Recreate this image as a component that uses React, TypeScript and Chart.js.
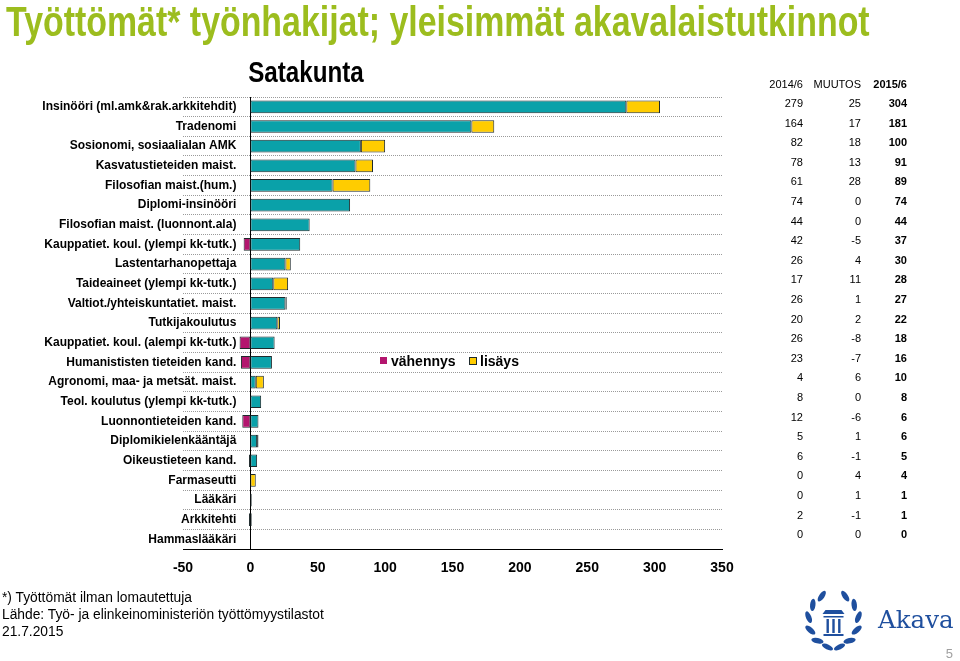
import React, { useEffect, useRef } from "react";
import { Chart, registerables } from "chart.js";

Chart.register(...registerables);

// ---------- data ----------
const categories = [
  "Insinööri (ml.amk&rak.arkkitehdit)",
  "Tradenomi",
  "Sosionomi, sosiaalialan AMK",
  "Kasvatustieteiden maist.",
  "Filosofian maist.(hum.)",
  "Diplomi-insinööri",
  "Filosofian maist. (luonnont.ala)",
  "Kauppatiet. koul. (ylempi kk-tutk.)",
  "Lastentarhanopettaja",
  "Taideaineet (ylempi kk-tutk.)",
  "Valtiot./yhteiskuntatiet. maist.",
  "Tutkijakoulutus",
  "Kauppatiet. koul. (alempi kk-tutk.)",
  "Humanististen tieteiden kand.",
  "Agronomi, maa- ja metsät. maist.",
  "Teol. koulutus (ylempi kk-tutk.)",
  "Luonnontieteiden kand.",
  "Diplomikielenkääntäjä",
  "Oikeustieteen kand.",
  "Farmaseutti",
  "Lääkäri",
  "Arkkitehti",
  "Hammaslääkäri",
];
const values2014 = [279, 164, 82, 78, 61, 74, 44, 42, 26, 17, 26, 20, 26, 23, 4, 8, 12, 5, 6, 0, 0, 2, 0];
const changes = [25, 17, 18, 13, 28, 0, 0, -5, 4, 11, 1, 2, -8, -7, 6, 0, -6, 1, -1, 4, 1, -1, 0];
const values2015 = [304, 181, 100, 91, 89, 74, 44, 37, 30, 28, 27, 22, 18, 16, 10, 8, 6, 6, 5, 4, 1, 1, 0];
const xTicks = [-50, 0, 50, 100, 150, 200, 250, 300, 350];
const tableHeaders = ["2014/6", "MUUTOS", "2015/6"];
const legendLabels = ["vähennys", "lisäys"];
const titleText = "Työttömät* työnhakijat; yleisimmät akavalaistutkinnot";
const subtitleText = "Satakunta";
const footerLines = [
  "*) Työttömät ilman lomautettuja",
  "Lähde: Työ- ja elinkeinoministeriön työttömyystilastot",
  "21.7.2015",
];
const pageNumber = "5";
const logoText = "Akava";

// ---------- styles ----------
const FONT = "'Liberation Sans', Arial, Helvetica, sans-serif";
const TEAL = "#0aa1a9";
const YELLOW = "#ffcc00";
const MAGENTA = "#b3156e";
const EDGE = "#1e2a2c";
const GREEN = "#9cbd1e";
const BLUE = "#1f4f9e";

function topFor(baseline: number, fs: number) {
  return baseline - 0.8465 * fs;
}

// category labels drawn at the zero line of the x scale (left of it)
const categoryLabelPlugin = {
  id: "categoryLabels",
  afterDraw(chart: any) {
    const xs = chart.scales.x;
    const ys = chart.scales.y;
    const ctx = chart.ctx;
    ctx.save();
    ctx.font = `bold 12px ${FONT}`;
    ctx.fillStyle = "#000";
    ctx.textAlign = "right";
    ctx.textBaseline = "middle";
    const x0 = xs.getPixelForValue(0) - 14;
    chart.data.labels.forEach((lab: string, i: number) => {
      ctx.fillText(lab, x0, ys.getPixelForValue(i));
    });
    ctx.restore();
  },
};

function BarChart() {
  const ref = useRef<HTMLCanvasElement | null>(null);
  useEffect(() => {
    if (!ref.current) return;
    const base = values2014.map((v, i) => Math.min(v, values2015[i]));
    const inc = changes.map((c) => (c > 0 ? c : null));
    const dec = changes.map((c) => (c < 0 ? c : null));
    const common = {
      borderColor: EDGE,
      borderWidth: 1,
      borderSkipped: false as const,
      stack: "s",
      categoryPercentage: 1,
      barPercentage: 0.646,
    };
    const chart = new Chart(ref.current, {
      type: "bar",
      data: {
        labels: categories,
        datasets: [
          { label: "base", data: base, backgroundColor: TEAL, ...common },
          { label: legendLabels[1], data: inc, backgroundColor: YELLOW, ...common },
          { label: legendLabels[0], data: dec, backgroundColor: MAGENTA, ...common },
        ],
      },
      plugins: [categoryLabelPlugin],
      options: {
        indexAxis: "y",
        animation: false,
        responsive: true,
        maintainAspectRatio: false,
        layout: { padding: { left: 183, right: 238, top: 97, bottom: 73 } },
        plugins: {
          legend: { display: false },
          tooltip: { enabled: false },
          title: { display: false },
        },
        scales: {
          x: {
            type: "linear",
            stacked: true,
            min: xTicks[0],
            max: xTicks[xTicks.length - 1],
            afterBuildTicks: (scale: any) => {
              scale.ticks = xTicks.map((v) => ({ value: v }));
            },
            ticks: {
              padding: 11,
              color: "#000",
              font: { family: FONT, size: 14, weight: "bold" },
            },
            grid: { display: false, drawTicks: false },
            border: { display: true, color: "#000", width: 1 },
          },
          y: {
            type: "category",
            stacked: true,
            position: { x: 0 } as any,
            ticks: { display: false },
            grid: { display: true, drawTicks: false, color: "#9a9a9a", lineWidth: 1, offset: true },
            border: { display: true, color: "#000", width: 1, dash: [1, 1] },
          },
        },
      } as any,
    });
    return () => chart.destroy();
  }, []);
  return (
    <div style={{ position: "absolute", left: 0, top: 0, width: 960, height: 661 }}>
      <canvas ref={ref} />
    </div>
  );
}

function Logo() {
  const cx = 833.5;
  const cy = 620;
  const rx = 25;
  const ry = 27;
  const angles = [28, 56, 84, 112, 140];
  const leaves: any[] = [];
  angles.forEach((a, k) => {
    [-1, 1].forEach((side) => {
      const rad = (a * Math.PI) / 180;
      const x = cx + side * rx * Math.sin(rad);
      const y = cy - ry * Math.cos(rad);
      const rot = side === -1 ? -a - 28 : a + 28;
      leaves.push(
        <ellipse key={`${k}-${side}`} cx={x} cy={y} rx={6.2} ry={2.7} fill={BLUE} transform={`rotate(${rot} ${x} ${y})`} />
      );
    });
  });
  return (
    <svg width={960} height={661} style={{ position: "absolute", left: 0, top: 0, pointerEvents: "none" }}>
      {leaves}
      <ellipse cx={cx - 6} cy={647} rx={6} ry={2.6} fill={BLUE} transform={`rotate(25 ${cx - 6} 647)`} />
      <ellipse cx={cx + 6} cy={647} rx={6} ry={2.6} fill={BLUE} transform={`rotate(-25 ${cx + 6} 647)`} />
      <polygon points={`${cx - 11},614 ${cx + 11},614 ${cx + 8},610 ${cx - 8},610`} fill={BLUE} />
      <rect x={cx - 10} y={616} width={20} height={1.5} fill={BLUE} />
      <rect x={cx - 7} y={619} width={2.4} height={14} fill={BLUE} />
      <rect x={cx - 1.2} y={619} width={2.4} height={14} fill={BLUE} />
      <rect x={cx + 4.6} y={619} width={2.4} height={14} fill={BLUE} />
      <rect x={cx - 10} y={634} width={20} height={2} fill={BLUE} />
    </svg>
  );
}

function Txt(props: {
  x: number;
  baseline: number;
  fs: number;
  align?: "left" | "right" | "center";
  bold?: boolean;
  color?: string;
  family?: string;
  scaleX?: number;
  children: any;
}) {
  const { x, baseline, fs, align = "left", bold, color = "#000", family = FONT, scaleX } = props;
  const style: any = {
    position: "absolute",
    top: topFor(baseline, fs),
    fontSize: fs,
    lineHeight: `${fs}px`,
    fontFamily: family,
    fontWeight: bold ? "bold" : "normal",
    color,
    whiteSpace: "nowrap",
  };
  if (align === "left") {
    style.left = x;
    if (scaleX) {
      style.transform = `scaleX(${scaleX})`;
      style.transformOrigin = "left";
    }
  } else if (align === "right") {
    style.right = 960 - x;
  } else {
    style.left = x;
    style.transform = `translateX(-50%)${scaleX ? ` scaleX(${scaleX})` : ""}`;
  }
  return <div style={style}>{props.children}</div>;
}

export default function App() {
  const rowBase = 107.3;
  const rowStep = 19.6;
  return (
    <div
      style={{
        position: "fixed",
        left: 0,
        top: 0,
        width: 960,
        height: 661,
        background: "#fff",
        overflow: "hidden",
        fontFamily: FONT,
      }}
    >
      <BarChart />
      <Txt x={6} baseline={36} fs={43} bold color={GREEN} scaleX={0.788}>
        {titleText}
      </Txt>
      <Txt x={306} baseline={82} fs={29.5} bold align="center" scaleX={0.82}>
        {subtitleText}
      </Txt>
      <Txt x={803} baseline={88} fs={11} align="right">{tableHeaders[0]}</Txt>
      <Txt x={861} baseline={88} fs={11} align="right">{tableHeaders[1]}</Txt>
      <Txt x={907} baseline={88} fs={11} align="right" bold>{tableHeaders[2]}</Txt>
      {categories.map((_, i) => (
        <React.Fragment key={i}>
          <Txt x={803} baseline={rowBase + i * rowStep} fs={11} align="right">{String(values2014[i])}</Txt>
          <Txt x={861} baseline={rowBase + i * rowStep} fs={11} align="right">{String(changes[i])}</Txt>
          <Txt x={907} baseline={rowBase + i * rowStep} fs={11} align="right" bold>{String(values2015[i])}</Txt>
        </React.Fragment>
      ))}
      <div style={{ position: "absolute", left: 380, top: 357, width: 7, height: 7, background: MAGENTA }} />
      <Txt x={391} baseline={365.5} fs={14} bold>{legendLabels[0]}</Txt>
      <div
        style={{
          position: "absolute",
          left: 469,
          top: 357,
          width: 6,
          height: 6,
          background: YELLOW,
          border: `1px solid ${EDGE}`,
        }}
      />
      <Txt x={480} baseline={365.5} fs={14} bold>{legendLabels[1]}</Txt>
      {footerLines.map((t, i) => (
        <Txt key={i} x={2} baseline={603 + i * 17} fs={13.8}>{t}</Txt>
      ))}
      <Logo />
      <Txt x={878} baseline={629} fs={24.5} color={BLUE} family="'DejaVu Serif', 'Liberation Serif', serif">
        {logoText}
      </Txt>
      <Txt x={953} baseline={658} fs={13} align="right" color="#a0a0a0">{pageNumber}</Txt>
    </div>
  );
}
